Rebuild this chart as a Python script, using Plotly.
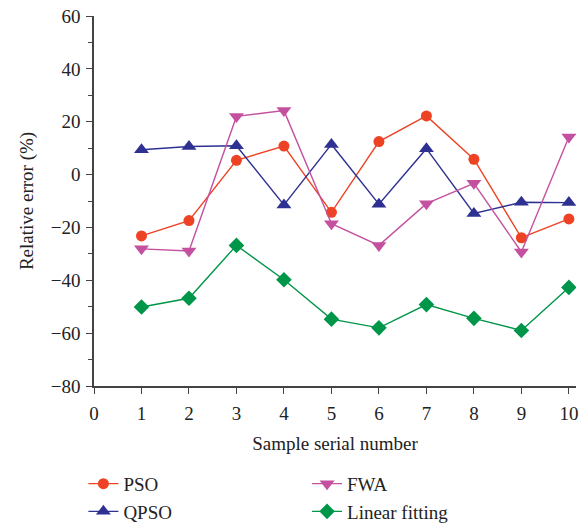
import plotly.graph_objects as go

samples = [1, 2, 3, 4, 5, 6, 7, 8, 9, 10]
pso = [-23.2, -17.4, 5.4, 10.8, -14.3, 12.5, 22.2, 5.8, -23.9, -16.8]
qpso = [9.4, 10.6, 10.9, -11.5, 11.4, -11.2, 9.8, -14.7, -10.5, -10.6]
fwa = [-28.1, -28.9, 22.0, 24.2, -18.6, -26.8, -11.0, -3.3, -29.3, 14.2]
linear = [-50.1, -46.8, -26.8, -39.8, -54.7, -58.0, -49.2, -54.4, -59.0, -42.7]

x_ticks = list(range(0, 11))
y_ticks = [-80, -60, -40, -20, 0, 20, 40, 60]

FONT = "Liberation Serif"

fig = go.Figure()
fig.add_trace(go.Scatter(x=samples, y=pso, name="PSO", mode="lines+markers",
                         line=dict(color="#EE4224", width=1.4),
                         marker=dict(symbol="circle", size=11, color="#EE4224"),
                         legend="legend"))
fig.add_trace(go.Scatter(x=samples, y=qpso, name="QPSO", mode="lines+markers",
                         line=dict(color="#2E3192", width=1.4),
                         marker=dict(symbol="triangle-up", size=13, color="#2E3192"),
                         legend="legend"))
fig.add_trace(go.Scatter(x=samples, y=fwa, name="FWA", mode="lines+markers",
                         line=dict(color="#C4519F", width=1.4),
                         marker=dict(symbol="triangle-down", size=13, color="#C4519F"),
                         legend="legend2"))
fig.add_trace(go.Scatter(x=samples, y=linear, name="Linear fitting", mode="lines+markers",
                         line=dict(color="#00964A", width=1.4),
                         marker=dict(symbol="diamond", size=12, color="#00964A"),
                         legend="legend2"))

axis_common = dict(showline=True, linecolor="#444", linewidth=1.5, showgrid=False,
                   zeroline=False, ticks="outside", ticklen=6, tickwidth=1.3,
                   tickcolor="#444", tickfont=dict(family=FONT, size=19, color="#222"))

fig.update_xaxes(range=[0, 10.15], tickvals=x_ticks, ticklabelstandoff=3,
                 title=dict(text="Sample serial number", font=dict(family=FONT, size=19, color="#222"), standoff=14),
                 **axis_common)
fig.update_yaxes(range=[-80, 60], tickvals=y_ticks, ticklabelstandoff=2,
                 minor=dict(dtick=10, ticks="outside", ticklen=4, tickwidth=1.2, tickcolor="#444"),
                 title=dict(text="Relative error (%)", font=dict(family=FONT, size=19, color="#222"), standoff=12),
                 **axis_common)

legend_common = dict(font=dict(family=FONT, size=19, color="#222"), bgcolor="rgba(0,0,0,0)",
                     yanchor="top", xanchor="left", tracegroupgap=0)
fig.update_layout(
    width=583, height=529,
    margin=dict(l=94, r=7, t=16, b=143, autoexpand=False),
    plot_bgcolor="white", paper_bgcolor="white",
    legend=dict(x=-0.022, y=-0.213, **legend_common),
    legend2=dict(x=0.442, y=-0.213, **legend_common),
)

fig.write_html("out.html")
